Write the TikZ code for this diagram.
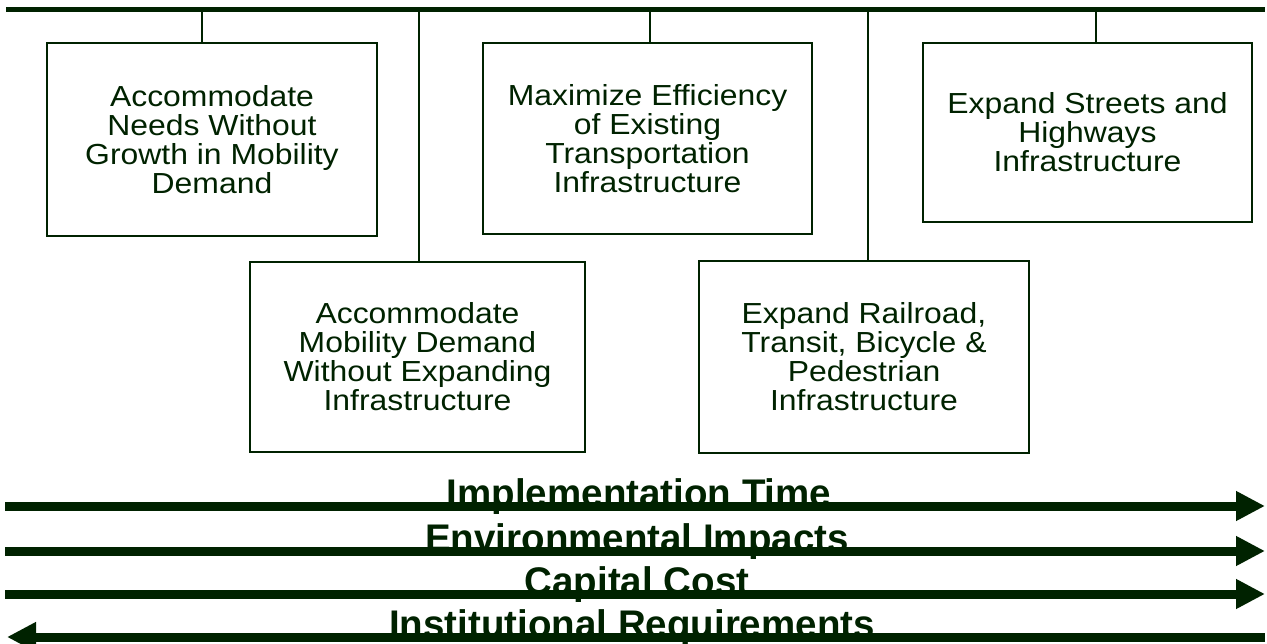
\documentclass[tikz,border=0pt]{standalone}
\usepackage{fontspec}
\setmainfont{Liberation Sans}
\newfontfamily\boxfont[FakeStretch=1.1]{Liberation Sans}
\usetikzlibrary{arrows.meta}
\definecolor{dkg}{RGB}{0,34,0}
\tikzset{
  box/.style={draw=dkg, line width=2pt, rectangle, align=center, inner sep=0pt,
    text=dkg, font=\boxfont\fontsize{29}{29}\selectfont},
  conn/.style={draw=dkg, line width=2pt},
  bigarrow/.style={draw=dkg, line width=9pt, -{Triangle[length=29pt,width=28pt]}},
  lab/.style={text=dkg, font=\fontsize{38.5}{40}\selectfont\bfseries, anchor=base, inner sep=0pt}
}
\begin{document}
\begin{tikzpicture}[x=1pt,y=-1pt]
\useasboundingbox (0,0) rectangle (1267,644);
% top bar
\coordinate (barL) at (6,10);
\coordinate (barR) at (1265,10);
\draw[draw=dkg, line width=5pt] (barL) -- (barR);
% boxes
\node[box, minimum width=330pt, minimum height=193pt] (b1) at (212,139.5)
  {Accommodate\\Needs Without\\Growth in Mobility\\Demand};
\node[box, minimum width=329pt, minimum height=191pt] (b3) at (647.5,138.5)
  {Maximize Efficiency\\of Existing\\Transportation\\Infrastructure};
\node[box, minimum width=329pt, minimum height=179pt] (b4) at (1087.5,132.5)
  {Expand Streets and\\Highways\\Infrastructure};
\node[box, minimum width=335pt, minimum height=190pt] (b2) at (417.5,357)
  {Accommodate\\Mobility Demand\\Without Expanding\\Infrastructure};
\node[box, minimum width=330pt, minimum height=192pt] (b5) at (864,357)
  {Expand Railroad,\\Transit, Bicycle \&\\Pedestrian\\Infrastructure};
% connectors
\draw[conn] ([xshift=-10pt]b1.north) -- ([xshift=-10pt]b1.north |- barL);
\draw[conn] ([xshift=2.5pt]b3.north) -- ([xshift=2.5pt]b3.north |- barL);
\draw[conn] ([xshift=8.5pt]b4.north) -- ([xshift=8.5pt]b4.north |- barL);
\draw[conn] ([xshift=1.5pt]b2.north) -- ([xshift=1.5pt]b2.north |- barL);
\draw[conn] ([xshift=4pt]b5.north) -- ([xshift=4pt]b5.north |- barL);
% labels
\node[lab] (l1) at (639,506) {Implementation Time};
\node[lab] (l2) at (637,551) {Environmental Impacts};
\node[lab] (l3) at (637,594) {Capital Cost};
\node[lab] (l4) at (632,637) {Institutional Requirements};
% arrows
\coordinate (a1s) at (5,506);   \coordinate (a1e) at (1265,506);
\coordinate (a2s) at (5,551);   \coordinate (a2e) at (1265,551);
\coordinate (a3s) at (5,594);   \coordinate (a3e) at (1265,594);
\coordinate (a4s) at (1265,637); \coordinate (a4e) at (7,637);
\draw[bigarrow] (a1s) -- (a1e);
\draw[bigarrow] (a2s) -- (a2e);
\draw[bigarrow] (a3s) -- (a3e);
\draw[bigarrow] (a4s) -- (a4e);
\end{tikzpicture}
\end{document}
